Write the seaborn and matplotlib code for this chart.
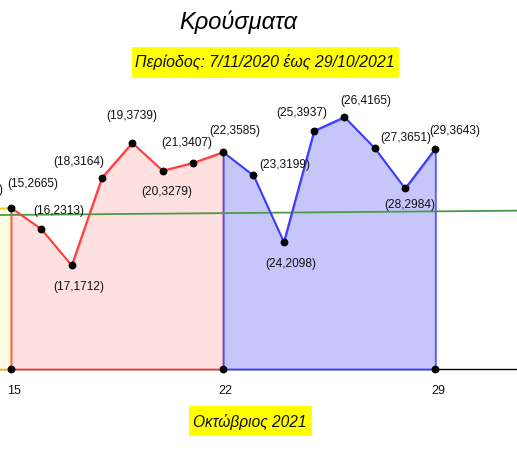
import matplotlib
matplotlib.use("Agg")
import matplotlib.pyplot as plt
import matplotlib.transforms as mtransforms
from matplotlib.patches import Rectangle
import seaborn as sns
import pandas as pd

# ---------------- data ----------------
days = [14, 15, 16, 17, 18, 19, 20, 21, 22, 23, 24, 25, 26, 27, 28, 29]
cases = [2630, 2665, 2313, 1712, 3164, 3739, 3279, 3407, 3585, 3199, 2098, 3937, 4165, 3651, 2984, 3643]
week_ticks = [15, 22, 29]
week_labels = ["15", "22", "29"]
trend_days = [14.637, 31.694]
trend_cases = [2545, 2617]
title = "Κρούσματα"
subtitle = "Περίοδος: 7/11/2020 έως 29/10/2021"
xlabel = "Οκτώβριος 2021"

df = pd.DataFrame({"day": days, "cases": cases})
seg_yellow = df[(df.day >= 14) & (df.day <= 15)]
seg_red = df[(df.day >= 15) & (df.day <= 22)]
seg_blue = df[(df.day >= 22) & (df.day <= 29)]

# label offsets in pixels (styling only)
label_offsets = {
    14: (23, -20, "right"),
    15: (22, -24, "center"), 16: (17.5, -18.5, "center"), 17: (7.5, 21.5, "center"),
    18: (-23.5, -16, "center"), 19: (0, -27, "center"), 20: (4.5, 21, "center"),
    21: (-6.5, -20, "center"), 22: (11.5, -21, "center"), 23: (31, -10, "center"),
    24: (6.5, 22, "center"), 25: (-12, -18, "center"), 26: (21, -16, "center"),
    27: (31, -10.6, "center"), 28: (5, 17, "center"), 29: (19, -18, "center"),
}

# ---------------- style ----------------
sns.set_style("white")
plt.rcParams["font.family"] = ["Liberation Sans", "DejaVu Sans"]

W, H = 517, 450
fig = plt.figure(figsize=(W / 100, H / 100), dpi=100)
ax = fig.add_axes([0, 0, 1, 1])
ax.set_xlim(14.637, 31.694)
ax.set_ylim(-1339, 6099)

RED = "#ff3b3b"
BLUE = "#3b3bff"
YEL = "#ffd21f"

# fills (polygons with outlines)
ax.fill_between(seg_yellow.day, seg_yellow.cases, 0, facecolor="#fffbe3",
                edgecolor=(1.0, 0.8, 0.1, 0.8), linewidth=1.4, zorder=2.6)
ax.fill_between(seg_red.day, seg_red.cases, 0, facecolor="#ffe0e0",
                edgecolor=(1.0, 0.2, 0.2, 0.75), linewidth=1.4, zorder=2.7)
ax.fill_between(seg_blue.day, seg_blue.cases, 0, facecolor="#c6c6fb",
                edgecolor=(0.2, 0.2, 1.0, 0.75), linewidth=1.4, zorder=2.8)

# trend line
sns.lineplot(x=trend_days, y=trend_cases, ax=ax, color="#4a9a4a", linewidth=1.3, zorder=3.5)

# data lines
sns.lineplot(data=seg_yellow, x="day", y="cases", ax=ax, color=YEL, linewidth=1.2, zorder=4)
sns.lineplot(data=seg_red, x="day", y="cases", ax=ax, color=RED, linewidth=1.2, zorder=4)
sns.lineplot(data=seg_blue, x="day", y="cases", ax=ax, color=BLUE, linewidth=1.2, zorder=4)

# points
sns.scatterplot(data=df, x="day", y="cases", ax=ax, color="black", s=32,
                edgecolor="black", linewidth=0, zorder=5, clip_on=False)
sns.scatterplot(x=week_ticks, y=[0] * len(week_ticks), ax=ax, color="black", s=32,
                edgecolor="black", linewidth=0, zorder=5)

# point labels
for d, c in zip(days, cases):
    dx, dy, ha = label_offsets[d]
    ax.annotate(f"({d},{c})", xy=(d, c), xytext=(dx, -dy), textcoords="offset pixels",
                ha=ha, va="center", fontsize=8.6, color="#111111",
                annotation_clip=False, zorder=6)

# axis styling
for s in ["left", "right", "top"]:
    ax.spines[s].set_visible(False)
ax.spines["bottom"].set_position(("data", 0))
ax.spines["bottom"].set_color("black")
ax.spines["bottom"].set_linewidth(1.0)
ax.spines["bottom"].set_zorder(2.5)
ax.set_yticks([])
ax.set_xticks(week_ticks)
ax.set_xticklabels(week_labels)
ax.set_xticks(list(range(15, 32, 2)), minor=True)
ax.tick_params(axis="x", which="major", length=0, pad=11.5, labelsize=9, labelcolor="#111111")
ax.tick_params(axis="x", which="minor", length=2.2, width=1, direction="out", color="black")
ax.set_xlabel("")
ax.set_ylabel("")
shift = mtransforms.ScaledTranslation(2.5 / 100, 0, fig.dpi_scale_trans)
for lbl in ax.get_xticklabels():
    lbl.set_transform(lbl.get_transform() + shift)

# title & boxed texts (figure pixel coords)
def fx(px):
    return px / W

def fy(py):
    return 1 - py / H

fig.text(fx(238), fy(22), title, ha="center", va="center", fontsize=17,
         style="italic", color="black")

fig.patches.append(Rectangle((fx(132), fy(78)), fx(399) - fx(132), fy(47) - fy(78),
                             transform=fig.transFigure, facecolor="#ffff00",
                             edgecolor="none", zorder=0))
fig.text(fx(265), fy(62.5), subtitle, ha="center", va="center", fontsize=11.4,
         style="italic", color="#111111")

fig.patches.append(Rectangle((fx(189), fy(436)), fx(312) - fx(189), fy(406) - fy(436),
                             transform=fig.transFigure, facecolor="#ffff00",
                             edgecolor="none", zorder=0))
fig.text(fx(250), fy(421.5), xlabel, ha="center", va="center", fontsize=11.2,
         style="italic", color="#111111")

fig.savefig("out.png", dpi=100)
